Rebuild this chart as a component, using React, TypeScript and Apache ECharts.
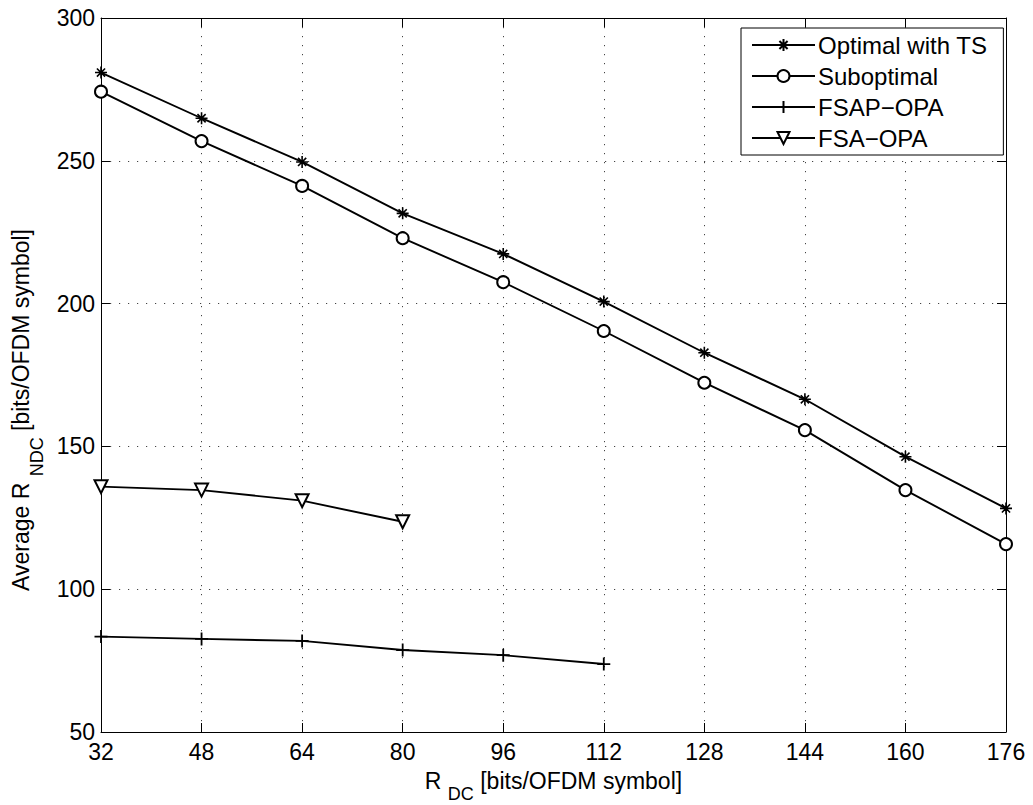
import React, { useEffect, useRef } from "react";
import * as echarts from "echarts";

const rdc = [32, 48, 64, 80, 96, 112, 128, 144, 160, 176];
const optimalTS = [280.9, 264.9, 249.6, 231.6, 217.4, 200.7, 182.8, 166.5, 146.4, 128.3];
const suboptimal = [274.2, 256.9, 241.2, 222.9, 207.5, 190.4, 172.3, 155.7, 134.7, 115.8];
const fsapOpa = [83.4, 82.6, 81.9, 78.7, 76.9, 73.8];
const fsaOpa = [135.9, 134.7, 131.0, 123.6];
const seriesNames = ["Optimal with TS", "Suboptimal", "FSAP\u2212OPA", "FSA\u2212OPA"];

const FONT = "'Liberation Sans', Arial, Helvetica, sans-serif";
const STAR = "path://M5 0 L5 10 M0 5 L10 5 M1.6 1.6 L8.4 8.4 M1.6 8.4 L8.4 1.6";
const PLUS = "path://M5 0 L5 10 M0 5 L10 5";

function pairs(vals: number[]) {
  return vals.map((v, i) => [rdc[i], v]);
}

export default function App() {
  const ref = useRef<HTMLDivElement>(null);
  useEffect(() => {
    if (!ref.current) return;
    const chart = echarts.init(ref.current, undefined, { renderer: "svg" });
    const grid = {
      show: true,
      lineStyle: { color: "#444", width: 1, type: [1.2, 7.8] as any },
    };
    const common = {
      color: "#000",
      fontSize: 23,
      fontFamily: FONT,
    };
    const richX = {
      m: { fontSize: 23, lineHeight: 26, verticalAlign: "top", fontFamily: FONT, color: "#000" },
      s: { fontSize: 18, lineHeight: 18, padding: [16, 0, 0, 0], verticalAlign: "top", fontFamily: FONT, color: "#000" },
    };
    const richY = {
      m: { fontSize: 23, lineHeight: 26, verticalAlign: "top", fontFamily: FONT, color: "#000" },
      s: { fontSize: 18, lineHeight: 18, padding: [18, 0, 0, 0], verticalAlign: "top", fontFamily: FONT, color: "#000" },
    };
    const lineStyle = { color: "#000", width: 1.9 };
    const option: any = {
      animation: false,
      backgroundColor: "#fff",
      textStyle: { fontFamily: FONT },
      grid: {
        left: 101,
        right: 27,
        top: 18,
        bottom: 73,
        containLabel: false,
        outerBoundsMode: "none",
      },
      legend: {
        orient: "vertical",
        left: 741,
        top: 28,
        padding: [5, 16, 5, 10],
        itemGap: 7,
        itemWidth: 63,
        itemHeight: 15,
        backgroundColor: "#fff",
        borderColor: "#000",
        borderWidth: 1,
        borderRadius: 0,
        textStyle: { ...common, fontSize: 24, padding: [0, 0, 0, -2] },
        data: seriesNames,
      },
      xAxis: [
        {
          type: "value",
          min: 32,
          max: 176,
          interval: 16,
          position: "bottom",
          name: "{m|R }{s|DC}{m| [bits/OFDM symbol]}",
          nameLocation: "middle",
          nameGap: 37,
          nameTextStyle: { ...common, rich: richX },
          axisLine: { show: true, lineStyle: { color: "#000", width: 1 } },
          axisTick: { show: true, inside: true, length: 9, lineStyle: { color: "#000" } },
          axisLabel: { ...common, margin: 8 },
          splitLine: grid,
        },
        {
          type: "value",
          min: 32,
          max: 176,
          interval: 16,
          position: "top",
          axisLine: { show: true, lineStyle: { color: "#000", width: 1 } },
          axisTick: { show: true, inside: true, length: 9, lineStyle: { color: "#000" } },
          axisLabel: { show: false },
          splitLine: { show: false },
        },
      ],
      yAxis: [
        {
          type: "value",
          min: 50,
          max: 300,
          interval: 50,
          position: "left",
          name: "{m|Average R }{s|NDC}{m| [bits/OFDM symbol]}",
          nameLocation: "middle",
          nameRotate: 90,
          nameGap: 58,
          nameTextStyle: { ...common, rich: richY, padding: [0, 70, 0, 0] },
          axisLine: { show: true, lineStyle: { color: "#000", width: 1 } },
          axisTick: { show: true, inside: true, length: 9, lineStyle: { color: "#000" } },
          axisLabel: { ...common, margin: 6 },
          splitLine: grid,
        },
        {
          type: "value",
          min: 50,
          max: 300,
          interval: 50,
          position: "right",
          axisLine: { show: true, lineStyle: { color: "#000", width: 1 } },
          axisTick: { show: true, inside: true, length: 9, lineStyle: { color: "#000" } },
          axisLabel: { show: false },
          splitLine: { show: false },
        },
      ],
      series: [
        {
          name: seriesNames[0],
          type: "line",
          data: pairs(optimalTS),
          symbol: STAR,
          symbolSize: 12,
          showAllSymbol: true,
          clip: false,
          lineStyle,
          itemStyle: { color: "#000", borderColor: "#000", borderWidth: 1.6 },
        },
        {
          name: seriesNames[1],
          type: "line",
          data: pairs(suboptimal),
          symbol: "emptyCircle",
          symbolSize: 12,
          showAllSymbol: true,
          clip: false,
          lineStyle,
          itemStyle: { color: "#000", borderColor: "#000", borderWidth: 1.6 },
        },
        {
          name: seriesNames[2],
          type: "line",
          data: pairs(fsapOpa),
          symbol: PLUS,
          symbolSize: 13,
          showAllSymbol: true,
          clip: false,
          lineStyle,
          itemStyle: { color: "#000", borderColor: "#000", borderWidth: 1.8 },
        },
        {
          name: seriesNames[3],
          type: "line",
          data: pairs(fsaOpa),
          symbol: "emptyTriangle",
          symbolRotate: 180,
          symbolSize: 13,
          showAllSymbol: true,
          clip: false,
          lineStyle,
          itemStyle: { color: "#000", borderColor: "#000", borderWidth: 1.6 },
        },
      ],
    };
    chart.setOption(option);
    return () => chart.dispose();
  }, []);
  return (
    <div
      ref={ref}
      style={{ position: "fixed", left: 0, top: 0, width: 1033, height: 805, background: "#fff" }}
    />
  );
}
